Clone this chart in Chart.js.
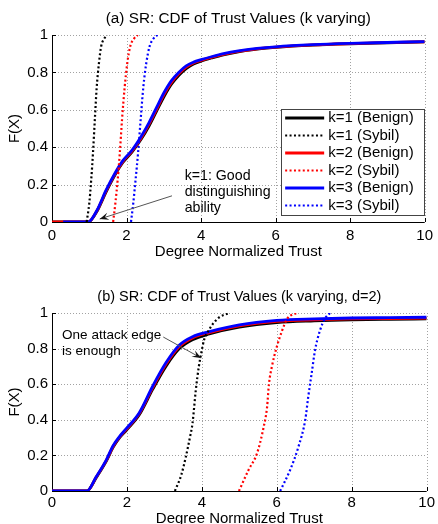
<!DOCTYPE html>
<html><head><meta charset="utf-8">
<script src="https://cdn.jsdelivr.net/npm/chart.js@4.4.1/dist/chart.umd.min.js"></script>
<style>
html,body{margin:0;padding:0;background:#fff;overflow:hidden;width:438px;height:524px;}
#wa{position:absolute;left:0;top:0;width:438px;height:262px;}
#wb{position:absolute;left:0;top:262px;width:438px;height:270px;}
</style></head><body>
<div id="wa"><canvas id="ca" width="438" height="262"></canvas></div>
<div id="wb"><canvas id="cb" width="438" height="270"></canvas></div>
<script>
// ---------- shared ----------
const xTicks = [0, 2, 4, 6, 8, 10];
const yTicks = [0, 0.2, 0.4, 0.6, 0.8, 1];
const seriesLabels = ['k=1 (Benign)', 'k=1 (Sybil)', 'k=2 (Benign)', 'k=2 (Sybil)', 'k=3 (Benign)', 'k=3 (Sybil)'];
const seriesColors = ['#000000', '#000000', '#ff0000', '#ff0000', '#0000ff', '#0000ff'];
const xTitle = 'Degree Normalized Trust';
const yTitle = 'F(X)';

// ---------- panel (a) ----------
const aTitle = '(a) SR: CDF of Trust Values (k varying)';
const aBenignX   = [0, 0.97, 1.2, 1.45, 1.7, 1.9, 2.15, 2.4, 2.6, 2.8, 3.0, 3.2, 3.4, 3.6, 3.8, 4.0, 4.3, 4.6, 5.0, 5.5, 6.0, 7.0, 8.0, 9.0, 10.0];
const aBenignXk3 = [0.3, 0.97, 1.2, 1.45, 1.7, 1.9, 2.15, 2.4, 2.6, 2.8, 3.0, 3.2, 3.4, 3.6, 3.8, 4.0, 4.3, 4.6, 5.0, 5.5, 6.0, 7.0, 8.0, 9.0, 10.0];
const aBenignK1 = [0, 0, 0.055, 0.16, 0.255, 0.318, 0.375, 0.445, 0.512, 0.59, 0.668, 0.735, 0.783, 0.82, 0.845, 0.86, 0.878, 0.894, 0.91, 0.924, 0.934, 0.946, 0.953, 0.958, 0.963];
const aBenignK2 = [0, 0, 0.058, 0.165, 0.26, 0.323, 0.38, 0.452, 0.522, 0.6, 0.68, 0.745, 0.792, 0.828, 0.85, 0.864, 0.882, 0.897, 0.912, 0.926, 0.935, 0.947, 0.954, 0.959, 0.964];
const aBenignK3 = [0, 0, 0.06, 0.17, 0.265, 0.328, 0.385, 0.46, 0.53, 0.61, 0.69, 0.755, 0.80, 0.835, 0.855, 0.868, 0.885, 0.90, 0.915, 0.928, 0.937, 0.948, 0.955, 0.96, 0.965];
const aSybilY   = [0, 0.1, 0.22, 0.37, 0.55, 0.72, 0.85, 0.94, 0.98, 1];
const aSybilXk1 = [0.93, 1.0, 1.05, 1.1, 1.15, 1.2, 1.26, 1.32, 1.4, 1.48];
const aSybilXk2 = [1.64, 1.7, 1.76, 1.82, 1.88, 1.95, 2.02, 2.1, 2.2, 2.3];
const aSybilXk3 = [2.12, 2.18, 2.24, 2.31, 2.38, 2.45, 2.53, 2.62, 2.72, 2.83];
const aNoteLines = ['k=1: Good', 'distinguishing', 'ability'];
const aNoteAnchor = [3.56, 0.246];       // data coords of first text line
const aArrow = [[3.22, 0.14], [1.28, 0.016]]; // tail, tip (data coords)

// ---------- panel (b) ----------
const bTitle = '(b) SR: CDF of Trust Values (k varying, d=2)';
const bBenignX  = [0, 0.93, 1.18, 1.45, 1.63, 1.8, 1.98, 2.33, 2.69, 3.04, 3.4, 3.75, 4.2, 5.0, 6.0, 7.0, 8.0, 9.0, 10.0];
const bBenignK1 = [0, 0, 0.075, 0.168, 0.245, 0.298, 0.34, 0.428, 0.572, 0.70, 0.80, 0.85, 0.882, 0.92, 0.946, 0.956, 0.962, 0.965, 0.967];
const bBenignK2 = [0, 0, 0.078, 0.172, 0.25, 0.302, 0.345, 0.435, 0.582, 0.712, 0.812, 0.86, 0.89, 0.928, 0.953, 0.962, 0.967, 0.969, 0.971];
const bBenignK3 = [0, 0, 0.08, 0.175, 0.255, 0.306, 0.35, 0.44, 0.59, 0.72, 0.82, 0.867, 0.895, 0.933, 0.958, 0.967, 0.972, 0.974, 0.976];
const bSybilXk1 = [3.28, 3.45, 3.57, 3.68, 3.75, 3.84, 3.92, 3.98, 4.06, 4.15, 4.3, 4.46, 4.6, 4.75];
const bSybilYk1 = [0, 0.09, 0.19, 0.3, 0.38, 0.57, 0.7, 0.77, 0.85, 0.89, 0.94, 0.975, 0.99, 1];
const bSybilXk2 = [4.99, 5.25, 5.47, 5.65, 5.74, 5.79, 5.87, 6.0, 6.14, 6.27, 6.4, 6.58];
const bSybilYk2 = [0, 0.12, 0.21, 0.36, 0.47, 0.6, 0.7, 0.81, 0.9, 0.965, 0.99, 1];
const bSybilXk3 = [6.09, 6.36, 6.58, 6.76, 6.84, 6.93, 7.02, 7.15, 7.29, 7.42];
const bSybilYk3 = [0, 0.12, 0.25, 0.4, 0.53, 0.66, 0.79, 0.9, 0.97, 1];
const bNoteLines = ['One attack edge', 'is enough'];
const bNoteAnchor = [0.27, 0.876];
const bArrow = [[2.97, 0.865], [3.98, 0.747]];

// ---------- build ----------
const FONT = "'Liberation Sans', Arial, Helvetica, sans-serif";
Chart.defaults.font.family = FONT;

const pts = (xs, ys) => xs.map((x, i) => ({x: x, y: ys[i]}));
function ds(idx, xs, ys, dotted, order) {
  return {
    label: seriesLabels[idx], data: pts(xs, ys),
    borderColor: seriesColors[idx], backgroundColor: seriesColors[idx],
    borderWidth: dotted ? 2.2 : 2.8, borderDash: dotted ? [2, 2.4] : [],
    pointRadius: 0, fill: false, cubicInterpolationMode: 'monotone', order: order
  };
}

const axesPlugin = {
  id: 'matlabAxes',
  beforeDatasetsDraw(chart) {
    const {ctx, chartArea: {left, right, top, bottom}, scales: {x, y}} = chart;
    ctx.save();
    // dotted grid
    ctx.strokeStyle = '#a2a2a2'; ctx.lineWidth = 1; ctx.setLineDash([1, 2]);
    ctx.beginPath();
    xTicks.forEach(v => { const px = Math.round(x.getPixelForValue(v)) + 0.5; ctx.moveTo(px, top); ctx.lineTo(px, bottom); });
    yTicks.forEach(v => { const py = Math.round(y.getPixelForValue(v)) + 0.5; ctx.moveTo(left, py); ctx.lineTo(right, py); });
    ctx.stroke();
    // axes + inward ticks
    ctx.strokeStyle = '#000'; ctx.setLineDash([]);
    ctx.beginPath();
    ctx.moveTo(left + 0.5, top); ctx.lineTo(left + 0.5, bottom + 0.5); ctx.lineTo(right, bottom + 0.5);
    xTicks.forEach(v => { const px = Math.round(x.getPixelForValue(v)) + 0.5; ctx.moveTo(px, bottom); ctx.lineTo(px, bottom - 4); });
    yTicks.forEach(v => { const py = Math.round(y.getPixelForValue(v)) + 0.5; ctx.moveTo(left, py); ctx.lineTo(left + 4, py); });
    ctx.stroke();
    ctx.restore();
  }
};

const titlePlugin = {
  id: 'panelTitle',
  afterDraw(chart, args, opts) {
    const {ctx, chartArea: {left, right}} = chart;
    ctx.save();
    ctx.fillStyle = '#000';
    ctx.font = opts.size + 'px ' + FONT;
    ctx.textAlign = 'center'; ctx.textBaseline = 'middle';
    ctx.fillText(opts.text, (left + right) / 2 + (opts.dx || 0), opts.y);
    ctx.restore();
  }
};

const notePlugin = {
  id: 'notes',
  afterDatasetsDraw(chart, args, opts) {
    const {ctx, scales: {x, y}} = chart;
    ctx.save();
    const x0 = x.getPixelForValue(opts.arrow[0][0]), y0 = y.getPixelForValue(opts.arrow[0][1]);
    const x1 = x.getPixelForValue(opts.arrow[1][0]), y1 = y.getPixelForValue(opts.arrow[1][1]);
    ctx.strokeStyle = '#555'; ctx.lineWidth = 1; ctx.setLineDash([]);
    ctx.beginPath(); ctx.moveTo(x0, y0); ctx.lineTo(x1, y1); ctx.stroke();
    const ang = Math.atan2(y1 - y0, x1 - x0), L = 9, W = 3.6;
    ctx.fillStyle = '#111';
    ctx.beginPath();
    ctx.moveTo(x1, y1);
    ctx.lineTo(x1 - L * Math.cos(ang) + W * Math.sin(ang), y1 - L * Math.sin(ang) - W * Math.cos(ang));
    ctx.lineTo(x1 - 0.6 * L * Math.cos(ang), y1 - 0.6 * L * Math.sin(ang));
    ctx.lineTo(x1 - L * Math.cos(ang) - W * Math.sin(ang), y1 - L * Math.sin(ang) + W * Math.cos(ang));
    ctx.closePath(); ctx.fill();
    ctx.fillStyle = '#000';
    ctx.font = opts.size + 'px ' + FONT;
    ctx.textAlign = 'left'; ctx.textBaseline = 'middle';
    const tx = x.getPixelForValue(opts.anchor[0]), ty = y.getPixelForValue(opts.anchor[1]);
    opts.lines.forEach((t, i) => ctx.fillText(t, tx, ty + i * opts.lh));
    ctx.restore();
  }
};

const legendPlugin = {
  id: 'boxLegend',
  afterDatasetsDraw(chart) {
    const {ctx, chartArea: {right, bottom}} = chart;
    const w = 143, h = 106;
    const bx = right - w - 0.5, by = bottom - 7 - h;
    ctx.save();
    ctx.fillStyle = '#fff';
    ctx.fillRect(bx, by, w, h);
    ctx.strokeStyle = '#444'; ctx.lineWidth = 1; ctx.setLineDash([]);
    ctx.strokeRect(Math.round(bx) + 0.5, Math.round(by) + 0.5, w, h);
    ctx.font = '15px ' + FONT;
    ctx.textAlign = 'left'; ctx.textBaseline = 'middle';
    chart.data.datasets.forEach((d, i) => {
      const ry = by + 9 + i * 17.5;
      ctx.strokeStyle = d.borderColor; ctx.lineWidth = d.borderWidth;
      ctx.setLineDash(d.borderDash);
      ctx.beginPath(); ctx.moveTo(bx + 4, ry); ctx.lineTo(bx + 43, ry); ctx.stroke();
      ctx.setLineDash([]);
      ctx.fillStyle = '#000';
      ctx.fillText(d.label, bx + 47, ry);
    });
    ctx.restore();
  }
};

function makeChart(canvas, datasets, cfg, extraPlugins) {
  return new Chart(canvas, {
    type: 'line',
    data: {datasets: datasets},
    options: {
      responsive: false, animation: false, devicePixelRatio: 1,
      layout: {padding: {left: 0, right: 10, top: cfg.top, bottom: 0}},
      plugins: {
        legend: {display: false}, tooltip: {enabled: false},
        panelTitle: {text: cfg.title, y: cfg.titleY, size: cfg.titleSize},
        notes: cfg.notes
      },
      scales: {
        x: {
          type: 'linear', min: 0, max: 10,
          afterFit(s) { s.height = cfg.xh; },
          afterBuildTicks(s) { s.ticks = xTicks.map(v => ({value: v})); },
          ticks: {font: {size: 15}, color: '#000', padding: cfg.xpad, maxRotation: 0, callback: v => String(v)},
          grid: {drawOnChartArea: false, drawTicks: false},
          border: {display: false},
          title: {display: true, text: xTitle, font: {size: 15}, color: '#000', padding: {top: 0, bottom: cfg.xtp}}
        },
        y: {
          type: 'linear', min: 0, max: 1,
          afterFit(s) { s.width = 52; },
          afterBuildTicks(s) { s.ticks = yTicks.map(v => ({value: v})); },
          ticks: {font: {size: 15}, color: '#000', padding: 4, callback: v => String(v)},
          grid: {drawOnChartArea: false, drawTicks: false},
          border: {display: false},
          title: {display: true, text: yTitle, font: {size: 15}, color: '#000', padding: {top: 6, bottom: 0}}
        }
      }
    },
    plugins: [axesPlugin, titlePlugin, notePlugin].concat(extraPlugins)
  });
}

const aSets = [
  ds(0, aBenignX, aBenignK1, false, 2),
  ds(1, aSybilXk1, aSybilY, true, -1),
  ds(2, aBenignX, aBenignK2, false, 1),
  ds(3, aSybilXk2, aSybilY, true, -2),
  ds(4, aBenignXk3, aBenignK3, false, 0),
  ds(5, aSybilXk3, aSybilY, true, -3)
];
const bSets = [
  ds(0, bBenignX, bBenignK1, false, 2),
  ds(1, bSybilXk1, bSybilYk1, true, -1),
  ds(2, bBenignX, bBenignK2, false, 1),
  ds(3, bSybilXk2, bSybilYk2, true, -2),
  ds(4, bBenignX, bBenignK3, false, 0),
  ds(5, bSybilXk3, bSybilYk3, true, -3)
];

makeChart(document.getElementById('ca'), aSets, {
  top: 35, xh: 40, xpad: 5, xtp: 1, title: aTitle, titleY: 19, titleSize: 15.3,
  notes: {lines: aNoteLines, anchor: aNoteAnchor, arrow: aArrow, size: 14.2, lh: 16}
}, [legendPlugin]);

makeChart(document.getElementById('cb'), bSets, {
  top: 51, xh: 41, xpad: 3, xtp: 4, title: bTitle, titleY: 35, titleSize: 14.5,
  notes: {lines: bNoteLines, anchor: bNoteAnchor, arrow: bArrow, size: 13.5, lh: 16}
}, []);
</script>
</body></html>
